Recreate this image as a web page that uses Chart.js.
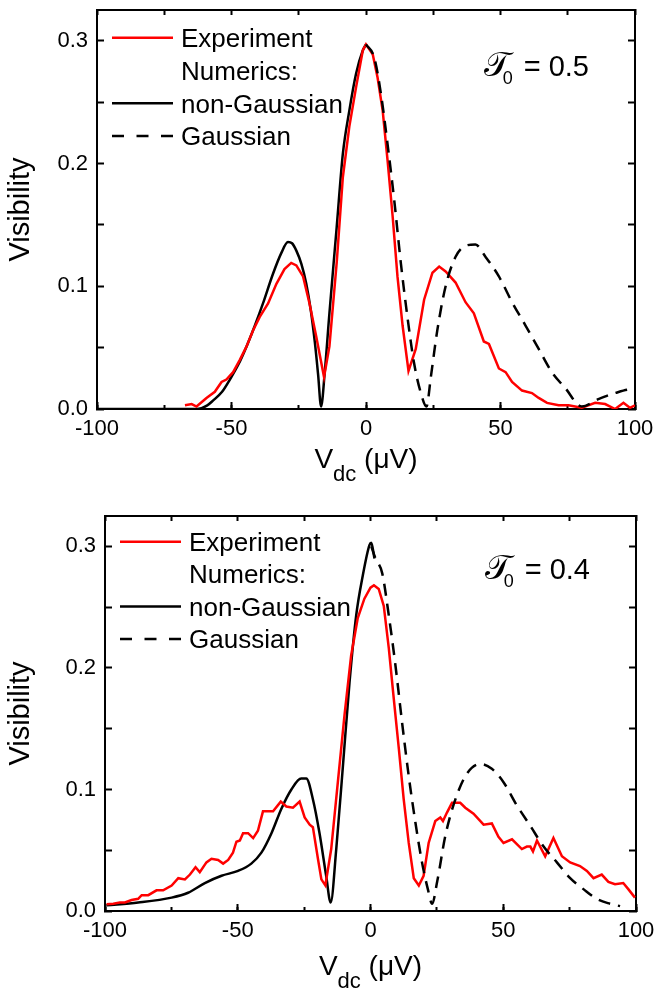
<!DOCTYPE html>
<html>
<head>
<meta charset="utf-8">
<title>Visibility vs Vdc</title>
<script src="https://cdn.jsdelivr.net/npm/chart.js@4"></script>
<style>
    body { margin: 0; background: #fff; }
    .box { position: absolute; left: 0; width: 656px; height: 495px; }
</style>
</head>
<body>
<div class="box" style="top:0px"><canvas id="topChart" width="656" height="495"></canvas></div>
<div class="box" style="top:495px"><canvas id="bottomChart" width="656" height="495"></canvas></div>
<script>
    var FONT = '"Liberation Sans", Arial, sans-serif';

    // legend rows (the second row is only a header)
    var legendLabels = ['Experiment', 'Numerics:', 'non-Gaussian', 'Gaussian'];

    // ---- top panel, T0 = 0.5 ----
    var topExpX = [-67.3, -64.8, -63, -59.3, -56.2, -53.7, -51.9, -49.4, -46.9, -44.4, -42, -39.5, -36.4, -33.3, -30.3,
        -27.8, -25.9, -23.4, -21, -18.5, -15.6, -13.6, -10.9, -8.6, -6.2, -3.7, -1.2, 0,
        2.5, 4.3, 6.2, 8, 9.9, 11.7, 13.6, 15.8, 18.5, 21.6, 24.7, 27.2, 29.6, 33.3, 37, 40.1, 43.8, 45.7, 49.4,
        51.9, 54.3, 58, 61.7, 64.2, 67.3, 71.6, 75.3, 80.2, 85.2, 88.9, 92.6, 95.7, 98.1, 100];
    var topExpY = [0.003, 0.004, 0.002, 0.009, 0.014, 0.022, 0.024, 0.030, 0.040, 0.051, 0.064, 0.075, 0.086, 0.102, 0.114,
        0.119, 0.117, 0.108, 0.086, 0.059, 0.026, 0.051, 0.119, 0.189, 0.230, 0.262, 0.292, 0.297,
        0.289, 0.270, 0.243, 0.203, 0.157, 0.108, 0.068, 0.031, 0.049, 0.089, 0.111, 0.116, 0.112, 0.103, 0.087, 0.078, 0.055, 0.053, 0.033,
        0.030, 0.022, 0.015, 0.013, 0.009, 0.005, 0.003, 0.003, 0.001, 0.005, 0.004, 0.000, 0.005, 0.001, 0.003];

    var topNgX = [-100, -63, -59, -56.8, -53.5, -50.6, -47.5, -44.4, -41.3, -38.3, -34.6, -31.5, -29, -27.5, -25.9,
        -24, -22.2, -20.5, -19, -17.8, -16.7, -15.3, -13.6, -10.9, -8.6, -6.2, -3.7, -1.2, 0];
    var topNgY = [0, 0, 0.003, 0.007, 0.014, 0.024, 0.036, 0.051, 0.068, 0.086, 0.110, 0.127, 0.136, 0.135, 0.129,
        0.118, 0.102, 0.080, 0.054, 0.028, 0.002, 0.031, 0.078, 0.148, 0.208, 0.243, 0.273, 0.292, 0.297];

    var topGX = [0, 3.1, 5.6, 8, 10.5, 13, 15.4, 17.9, 20.4, 22.5, 24.1, 26.5, 29.6, 33.3, 37, 40.7, 44.4, 49.4,
        54.3, 59.3, 64.2, 69.1, 74.1, 80.2, 86.4, 92.6, 98.8, 100];
    var topGY = [0.297, 0.286, 0.256, 0.216, 0.170, 0.118, 0.075, 0.037, 0.013, 0.002, 0.026, 0.064, 0.100, 0.124, 0.133, 0.134, 0.124, 0.108,
        0.087, 0.068, 0.049, 0.030, 0.017, 0.002, 0.008, 0.013, 0.016, 0.016];

    // ---- bottom panel, T0 = 0.4 ----
    var botExpX = [-99.4, -96.9, -94.4, -92.5, -90, -87.5, -86.2, -83.7, -80.6, -78.1, -74.9, -72.4, -69.9, -68, -65.9,
        -64.3, -61.8, -59.9, -57.4, -55.5, -53.6, -51.8, -50.5, -49.2, -48, -46.1, -44.2, -42.4, -40.5, -38.6,
        -36.7, -33.8, -31.7, -29.2, -26.7, -24.8, -22.9, -21.7, -19.8, -18.5, -17, -14.8, -12.3, -9.8, -7.3,
        -4.8, -2.3, 0, 1.3, 3.1, 5, 6.9, 8.8, 10.7, 12.5, 14.4, 16.3, 18.2, 20, 21.9, 24.4, 26.3, 27.3, 28.8,
        30.7, 33.8, 35.7, 38.8, 42.6, 45.7, 48.2, 50.1, 53.3, 57, 58.9, 60.2, 61.2, 62.7, 65.8, 68.9, 72.1,
        75.2, 78.9, 81.5, 84, 87.1, 89.6, 92.1, 95.2, 97.1, 99.6];
    var botExpY = [0.0055, 0.006, 0.007, 0.007, 0.009, 0.010, 0.013, 0.013, 0.017, 0.017, 0.021, 0.027, 0.026, 0.030, 0.036,
        0.032, 0.040, 0.043, 0.042, 0.039, 0.042, 0.048, 0.057, 0.058, 0.064, 0.064, 0.060, 0.066, 0.082, 0.082,
        0.082, 0.090, 0.086, 0.085, 0.090, 0.077, 0.071, 0.069, 0.043, 0.026, 0.021, 0.051, 0.106, 0.161, 0.210,
        0.241, 0.257, 0.266, 0.268, 0.265, 0.251, 0.216, 0.174, 0.133, 0.092, 0.056, 0.027, 0.021, 0.029, 0.056, 0.074, 0.077, 0.074, 0.081,
        0.089, 0.089, 0.085, 0.080, 0.071, 0.072, 0.061, 0.056, 0.059, 0.051, 0.053, 0.053, 0.049, 0.058, 0.045, 0.060, 0.045,
        0.040, 0.037, 0.033, 0.027, 0.030, 0.024, 0.022, 0.023, 0.018, 0.011];

    var botNgX = [-99.4, -87.5, -74.9, -68.7, -62.4, -56.1, -49.9, -44.9, -41.1, -37.3, -33.6, -29.8, -26.1, -24.2,
        -21.7, -19.2, -16.7, -15, -12.9, -10.4, -7.9, -5.4, -2.9, -0.4, 0.3, 1.5];
    var botNgY = [0.0047, 0.007, 0.011, 0.015, 0.023, 0.029, 0.033, 0.039, 0.048, 0.064, 0.084, 0.100, 0.109, 0.109,
        0.092, 0.064, 0.029, 0.007, 0.051, 0.119, 0.188, 0.243, 0.276, 0.301, 0.303, 0.290];

    var botGX = [0.3, 1.9, 4.4, 6.9, 9.4, 11.9, 14.4, 16.9, 19.4, 21.6, 23.2, 25.1, 28.2, 32, 36.3, 41.4, 45.7, 50.1,
        55.1, 60.2, 65.2, 70.2, 75.2, 80.2, 85.2, 90.2, 94];
    var botGY = [0.300, 0.290, 0.278, 0.243, 0.202, 0.155, 0.111, 0.073, 0.040, 0.018, 0.006, 0.024, 0.062, 0.092, 0.113, 0.121, 0.117, 0.106,
        0.087, 0.070, 0.053, 0.040, 0.027, 0.018, 0.010, 0.006, 0.004];

    var xTicksStep = 50, xMinorStep = 25;
    var yTicksStep = 0.05;

    function series(xs, ys) {
        return xs.map(function (x, i) { return {x: x, y: ys[i]}; });
    }

    // legend, T0 label and the x title with its subscript
    var overlay = {
        id: 'overlay',
        afterDraw: function (chart, args, o) {
            var ctx = chart.ctx, a = chart.chartArea;
            ctx.save();
            ctx.fillStyle = '#000';
            ctx.textAlign = 'left';
            ctx.textBaseline = 'alphabetic';

            var styles = [{c: '#ff0000', d: []}, null, {c: '#000', d: []}, {c: '#000', d: [12, 12.5]}];
            for (var i = 0; i < legendLabels.length; i++) {
                var y = a.top + o.legendTop + i * o.legendStep;
                var s = styles[i];
                if (s) {
                    ctx.strokeStyle = s.c;
                    ctx.lineWidth = 2.5;
                    ctx.setLineDash(s.d);
                    ctx.beginPath();
                    ctx.moveTo(a.left + 15, y);
                    ctx.lineTo(a.left + 76, y);
                    ctx.stroke();
                    ctx.setLineDash([]);
                }
                ctx.font = '26px ' + FONT;
                ctx.fillText(legendLabels[i], a.left + 84, y + 9.3);
            }

            // T0 = value
            var base = a.top + o.tauBase;
            ctx.font = '29px ' + FONT;
            var rest = '= ' + o.tau;
            var eqX = a.right - 46 - ctx.measureText(rest).width;
            ctx.fillText(rest, eqX, base);
            var tx = eqX - 40;
            ctx.font = '34px "DejaVu Sans", "DejaVu Serif", serif';
            ctx.fillText('\u{1D4AF}', tx, base);
            ctx.font = '18px ' + FONT;
            ctx.fillText('0', tx + 19, base + 8);

            // x title  V_dc (μV)
            ctx.font = '28px ' + FONT;
            var w1 = ctx.measureText('V').width;
            var w3 = ctx.measureText(' (\u03BCV)').width;
            ctx.font = '22px ' + FONT;
            var w2 = ctx.measureText('dc').width;
            var xs = (a.left + a.right) / 2 - (w1 + w2 + w3) / 2;
            var yb = a.bottom + o.titleBase;
            ctx.font = '28px ' + FONT;
            ctx.fillText('V', xs, yb);
            ctx.fillText(' (\u03BCV)', xs + w1 + w2, yb);
            ctx.font = '22px ' + FONT;
            ctx.fillText('dc', xs + w1, yb + 13);
            ctx.restore();
        }
    };

    // fix box sizes and drop the label overhang padding so the plot area sits where we want it
    function fixBox(w, h) {
        return function (s) {
            if (w !== null) s.width = w;
            if (h !== null) s.height = h;
            s.paddingLeft = 0; s.paddingRight = 0; s.paddingTop = 0; s.paddingBottom = 0;
        };
    }

    function makeScales(leftW, bottomH) {
        var tickFont = {family: FONT, size: 22};
        var border = {color: '#000', width: 2};
        return {
            x: {
                type: 'linear', axis: 'x', position: 'bottom', weight: 1, min: -100, max: 100,
                border: border,
                grid: {drawOnChartArea: false, tickLength: -7, tickWidth: 2, tickColor: '#000'},
                ticks: {stepSize: xTicksStep, font: tickFont, color: '#000', padding: 14, maxRotation: 0, autoSkip: false,
                    callback: function (v) { return String(v); }},
                afterFit: fixBox(null, bottomH)
            },
            xMinor: {
                type: 'linear', axis: 'x', position: 'bottom', weight: 0, min: -100, max: 100,
                border: border,
                grid: {drawOnChartArea: false, tickLength: -4, tickWidth: 2, tickColor: '#000'},
                ticks: {stepSize: xMinorStep, display: false},
                afterFit: fixBox(null, 0)
            },
            xTop: {
                type: 'linear', axis: 'x', position: 'top', min: -100, max: 100,
                border: border,
                grid: {drawOnChartArea: false, tickLength: -5, tickWidth: 2, tickColor: '#000'},
                ticks: {stepSize: xMinorStep, display: false},
                afterFit: fixBox(null, 0)
            },
            y: {
                type: 'linear', axis: 'y', position: 'left', min: 0, max: 0.325,
                border: border,
                grid: {drawOnChartArea: false, tickLength: -7, tickWidth: 2, tickColor: '#000'},
                ticks: {stepSize: yTicksStep, includeBounds: false, font: tickFont, color: '#000', padding: 16, autoSkip: false,
                    callback: function (v) {
                        var r = Math.round(v * 20);
                        return r % 2 === 0 ? (r / 20).toFixed(1) : '';
                    }},
                title: {display: true, text: 'Visibility', color: '#000', font: {family: FONT, size: 29},
                    padding: {top: 4, bottom: 0}},
                afterFit: fixBox(leftW, null)
            },
            yRight: {
                type: 'linear', axis: 'y', position: 'right', min: 0, max: 0.325,
                border: border,
                grid: {drawOnChartArea: false, tickLength: -7, tickWidth: 2, tickColor: '#000'},
                ticks: {stepSize: yTicksStep, includeBounds: false, display: false},
                afterFit: fixBox(0, null)
            }
        };
    }

    function makeChart(id, d, p) {
        return new Chart(document.getElementById(id), {
            type: 'line',
            data: {
                datasets: [{
                    label: legendLabels[3],
                    data: series(d.gX, d.gY),
                    borderColor: '#000', borderWidth: 2.5, borderDash: [12, 8],
                    pointRadius: 0, cubicInterpolationMode: 'monotone', fill: false
                }, {
                    label: legendLabels[0],
                    data: series(d.expX, d.expY),
                    borderColor: '#ff0000', borderWidth: 2.5,
                    pointRadius: 0, tension: 0, fill: false
                }, {
                    label: legendLabels[2],
                    data: series(d.ngX, d.ngY),
                    borderColor: '#000', borderWidth: 2.5,
                    pointRadius: 0, cubicInterpolationMode: 'monotone', fill: false
                }]
            },
            options: {
                responsive: false,
                animation: false,
                devicePixelRatio: 1,
                layout: {padding: {top: p.top, right: p.right, bottom: 0, left: 0}},
                scales: makeScales(p.leftW, p.bottomH),
                plugins: {
                    legend: {display: false},
                    tooltip: {enabled: false},
                    overlay: {tau: p.tau, legendTop: p.legendTop, legendStep: p.legendStep,
                        tauBase: p.tauBase, titleBase: p.titleBase}
                }
            },
            plugins: [overlay]
        });
    }

    Chart.defaults.font.family = FONT;

    makeChart('topChart',
        {expX: topExpX, expY: topExpY, ngX: topNgX, ngY: topNgY, gX: topGX, gY: topGY},
        {top: 10, right: 21, leftW: 97, bottomH: 86, tau: '0.5', legendTop: 27.7, legendStep: 32.8, tauBase: 65.5, titleBase: 59});

    makeChart('bottomChart',
        {expX: botExpX, expY: botExpY, ngX: botNgX, ngY: botNgY, gX: botGX, gY: botGY},
        {top: 21, right: 20, leftW: 105, bottomH: 79, tau: '0.4', legendTop: 25.7, legendStep: 32.4, tauBase: 62.5, titleBase: 64});
</script>
</body>
</html>
